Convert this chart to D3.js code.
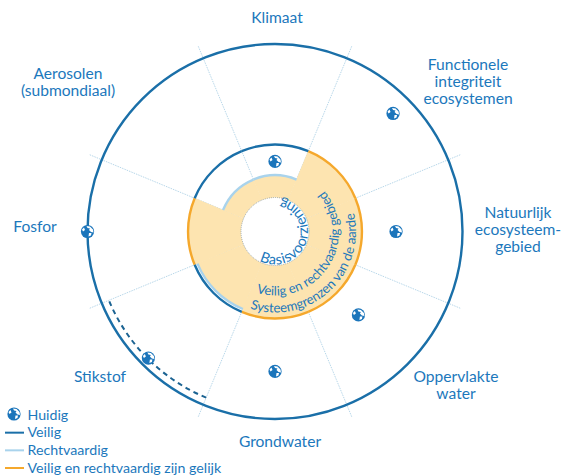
<!DOCTYPE html>
<html>
<head>
<meta charset="utf-8">
<script src="https://cdnjs.cloudflare.com/ajax/libs/d3/7.8.5/d3.min.js"></script>
<style>
  html, body { margin: 0; padding: 0; background: #fff; }
  svg { display: block; }
  text { font-family: Lato, "Open Sans", sans-serif; fill: #1c78bc; }
</style>
</head>
<body>
<svg id="chart" width="564" height="476"></svg>
<script>
// Data. Radial unit: 0 = edge of the inner hole, 100 = outer ring
const categories = ["Klimaat", "Functionele integriteit ecosystemen", "Natuurlijk ecosysteem- gebied", "Oppervlakte water", "Grondwater", "Stikstof", "Fosfor", "Aerosolen (submondiaal)"];
const safe = [34.5, 34.5, 34.5, 34.5, 34.5, 34.5, 34.5, 34.5];
const just = [14.5, 34.5, 34.5, 34.5, 34.5, 32.5, 34.5, 14.5];
const current = [23.5, 86.6, 56.7, 54.7, 69, 94.5, 100, null];
const outerDashed = [null, null, null, null, null, 95, null, null];
const legendItems = ["Huidig", "Veilig", "Rechtvaardig", "Veilig en rechtvaardig zijn gelijk"];

// Layout
const width = 564, height = 476;
const cx = 275, cy = 231.5;
const blue = "#1a6fa8", lightBlue = "#a9d3ec", orange = "#f5a82c", fillYellow = "#fde4b0";
// label anchors: x centre, first baseline
const labelPos = [[277, 23], [468, 70], [518, 218], [456, 382], [280, 447], [100, 382], [35, 232], [68, 79]];
const labelLines = [["Klimaat"], ["Functionele", "integriteit", "ecosystemen"], ["Natuurlijk", "ecosysteem-", "gebied"], ["Oppervlakte", "water"], ["Grondwater"], ["Stikstof"], ["Fosfor"], ["Aerosolen", "(submondiaal)"]];

const r = d3.scaleLinear().domain([0, 100]).range([34, 187.5]);
const slice = 2 * Math.PI / categories.length;
const angle = d3.scaleLinear().domain([0, categories.length]).range([0, 2 * Math.PI]);
const start = i => angle(i) - slice / 2;
const end = i => angle(i) + slice / 2;
// polar to x,y (angle clockwise from the top)
const px = (a, rad) => Math.sin(a) * rad;
const py = (a, rad) => -Math.cos(a) * rad;

const svg = d3.select("#chart");
const g = svg.append("g").attr("transform", `translate(${cx},${cy})`);

// Spokes
g.append("g").selectAll("line")
    .data(categories)
    .join("line")
    .attr("x1", (d, i) => px(start(i), r(0)))
    .attr("y1", (d, i) => py(start(i), r(0)))
    .attr("x2", (d, i) => px(start(i), r(109)))
    .attr("y2", (d, i) => py(start(i), r(109)))
    .attr("stroke", "#b0d2e6")
    .attr("stroke-width", 0.9)
    .attr("stroke-dasharray", "1.5 1");

// Yellow space
const arc = d3.arc();
g.append("g").selectAll("path")
    .data(categories)
    .join("path")
    .attr("d", (d, i) => arc({
        innerRadius: r(0), outerRadius: r(Math.min(safe[i], just[i])),
        startAngle: start(i) - 0.003, endAngle: end(i) + 0.003
    }))
    .attr("fill", fillYellow);

// Outer ring
g.append("circle").attr("r", r(100)).attr("fill", "none").attr("stroke", blue).attr("stroke-width", 2.4);

// Boundary arcs on each sector
const ring = (i, v) => {
    const p = d3.path();
    p.arc(0, 0, r(v), start(i) - Math.PI / 2, end(i) - Math.PI / 2);
    return p.toString();
};
const boundary = g.append("g").attr("fill", "none");
categories.forEach((d, i) => {
    if (safe[i] === just[i]) {
        boundary.append("path").attr("d", ring(i, safe[i])).attr("stroke", orange).attr("stroke-width", 2.4);
    }
});
categories.forEach((d, i) => {
    if (safe[i] !== just[i]) {
        boundary.append("path").attr("d", ring(i, safe[i])).attr("stroke", blue).attr("stroke-width", 2.4);
        boundary.append("path").attr("d", ring(i, just[i])).attr("stroke", lightBlue).attr("stroke-width", 2.4);
    }
});

// Dashed arc near the outer ring
outerDashed.forEach((v, i) => {
    if (v !== null) {
        boundary.append("path").attr("d", ring(i, v))
            .attr("stroke", "#1b6392").attr("stroke-width", 2).attr("stroke-dasharray", "5 4");
    }
});

// Inner hole
g.append("circle").attr("r", r(0)).attr("fill", "#fff")
    .attr("stroke", "#8d9aa0").attr("stroke-width", 0.8).attr("stroke-dasharray", "1 1");

// Globe marker
function globe(sel) {
    sel.append("circle").attr("r", 6.6).attr("fill", "#1b75bb");
    sel.append("path").attr("fill", "#fff")
        .attr("d", "M-1,-5.5 L2.5,-5 L5.5,-2 L6,1 L3.5,0.5 L1.5,-1.5 L2.5,-3 L0,-3.5 Z M-5.5,-2 L-3.5,-4 L-2.5,-1.5 L-4.5,0 Z M1.5,1.5 L4,1.5 L3.5,4 L1,5 Z");
}
categories.forEach((d, i) => {
    if (current[i] !== null) {
        g.append("g")
            .attr("transform", `translate(${px(angle(i), r(current[i]))},${py(angle(i), r(current[i]))})`)
            .call(globe);
    }
});

// Curved captions, running counter-clockwise with letter tops towards the centre
const curved = [
    { text: "Systeemgrenzen van de aarde", rad: 81, from: 198, to: 40, size: 13.2, spacing: 0 },
    { text: "Veilig en rechtvaardig gebied", rad: 64, from: 197, to: 20, size: 13, spacing: 0 },
    { text: "Basisvoorziening", rad: 33, from: 208, to: -30, size: 14.5, spacing: 0.45 }
];
const defs = svg.append("defs");
curved.forEach((c, i) => {
    const p = d3.path();
    const rad = a => (a - 90) * Math.PI / 180;
    p.arc(0, 0, c.rad, rad(c.from), rad(c.to), true);
    defs.append("path").attr("id", "curve" + i).attr("d", p.toString());
    g.append("text")
        .attr("font-size", c.size)
        .attr("letter-spacing", c.spacing)
        .append("textPath")
        .attr("href", "#curve" + i)
        .text(c.text);
});

// Category labels
categories.forEach((d, i) => {
    const t = svg.append("text")
        .attr("text-anchor", "middle")
        .attr("font-size", 15.6);
    labelLines[i].forEach((line, k) => {
        t.append("tspan")
            .attr("x", labelPos[i][0])
            .attr("y", labelPos[i][1] + k * 16.8)
            .text(line);
    });
});

// Legend
const legendY = d3.scalePoint().domain(legendItems).range([415, 468]);
const legendColor = [null, blue, lightBlue, orange];
legendItems.forEach((d, i) => {
    const y = legendY(d);
    if (i === 0) {
        svg.append("g").attr("transform", `translate(14,${y - 1})`).call(globe);
    } else {
        svg.append("line").attr("x1", 5).attr("x2", 24).attr("y1", y).attr("y2", y)
            .attr("stroke", legendColor[i]).attr("stroke-width", 2);
    }
    svg.append("text").attr("x", 27.5).attr("y", y + 4.5).attr("font-size", 14.2).text(d);
});
</script>
</body>
</html>
